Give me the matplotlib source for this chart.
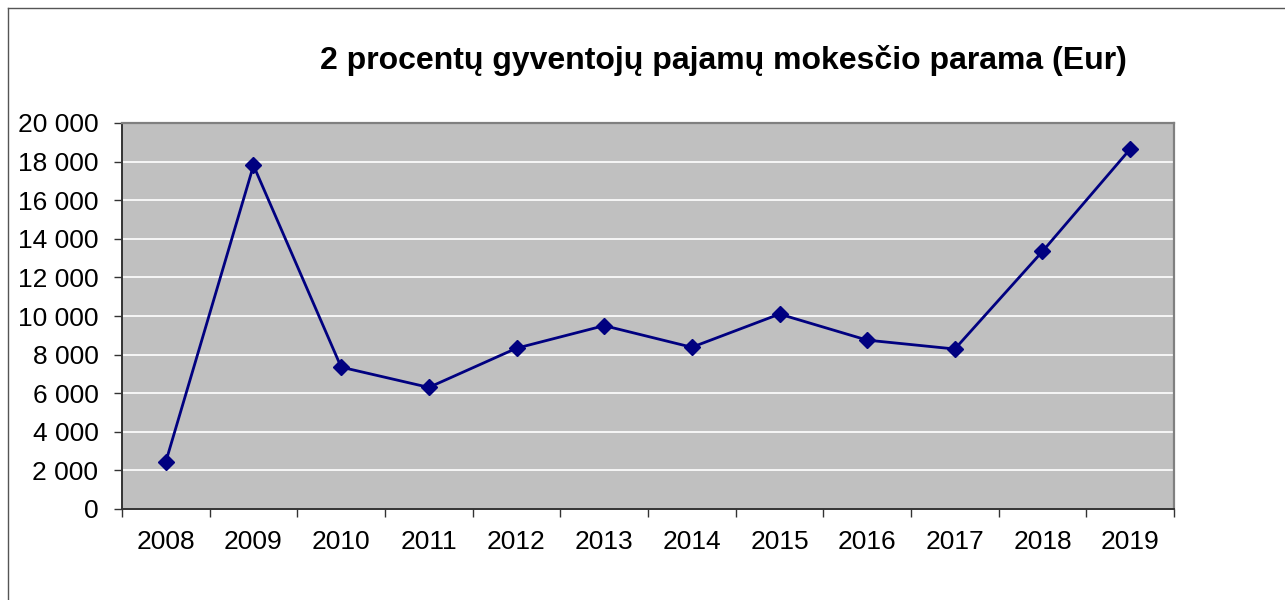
"""Recreate the 2% income tax support line chart."""

import matplotlib
matplotlib.use('Agg')
import matplotlib.pyplot as plt
from matplotlib.lines import Line2D
from matplotlib.ticker import FuncFormatter, FixedLocator

plt.rcParams['font.family'] = ['Liberation Sans', 'DejaVu Sans']

years = ['2008', '2009', '2010', '2011', '2012', '2013',
         '2014', '2015', '2016', '2017', '2018', '2019']
support_eur = [2450, 17800, 7350, 6300, 8330, 9500,
               8380, 10100, 8750, 8290, 13350, 18650]
title = '2 procentų gyventojų pajamų mokesčio parama (Eur)'


def thousands(v, _pos):
    return f'{int(v):,}'.replace(',', ' ')


fig = plt.figure(figsize=(12.85, 6.0), dpi=100)
ax = fig.add_axes([122 / 1285, 1 - 509 / 600, 1052 / 1285, 386 / 600])
ax.set_facecolor('#C0C0C0')

x = list(range(len(years)))
ax.plot(x, support_eur, color='#000080', linewidth=2.0, marker='D',
        markersize=8, zorder=3)

ax.set_xlim(-0.5, len(years) - 0.5)
ax.set_ylim(0, 20000)
ax.set_yticks(range(0, 20001, 2000))
ax.yaxis.set_major_formatter(FuncFormatter(thousands))
ax.grid(axis='y', color='white', linewidth=1.2)
ax.set_axisbelow(True)

ax.set_xticks(x)
ax.set_xticklabels(years)
ax.xaxis.set_minor_locator(FixedLocator([i - 0.5 for i in range(len(years) + 1)]))
ax.tick_params(axis='x', which='major', length=0, pad=15, labelsize=19)
ax.tick_params(axis='x', which='minor', length=6, width=1, color='#333333')
ax.tick_params(axis='y', length=6, width=1, color='#333333', pad=11, labelsize=19)

for side in ('top', 'right'):
    ax.spines[side].set_color('#808080')
    ax.spines[side].set_linewidth(1.6)
for side in ('left', 'bottom'):
    ax.spines[side].set_color('#333333')
    ax.spines[side].set_linewidth(1.4)

fig.text(723 / 1285, 1 - 60 / 600, title, ha='center', va='center',
         fontsize=23, fontweight='bold')

# outer chart frame (only the left and top edges are visible)
fig.add_artist(Line2D([8 / 1285, 8 / 1285], [0, 1 - 8 / 600], color='#555555', linewidth=1))
fig.add_artist(Line2D([8 / 1285, 1], [1 - 8 / 600, 1 - 8 / 600], color='#555555', linewidth=1))

fig.savefig('out.png', dpi=100)
